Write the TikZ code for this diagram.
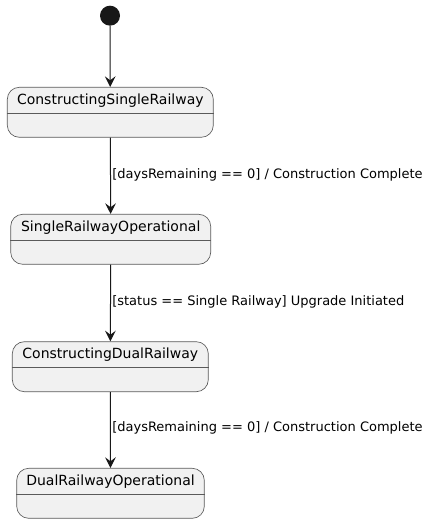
\documentclass[tikz,border=0pt]{standalone}
\usepackage{fontspec}
\setmainfont{DejaVu Sans}
\usetikzlibrary{arrows.meta}
\definecolor{statefill}{HTML}{F1F1F1}
\definecolor{stateline}{HTML}{5A5A5A}
\definecolor{ink}{HTML}{181818}
\tikzset{
  statebox/.style={draw=stateline, fill=statefill, rounded corners=9pt, line width=0.5pt, minimum height=37.5pt, inner sep=0pt},
  statetitle/.style={font=\fontsize{10.5pt}{12pt}\selectfont, text=black, inner sep=0pt},
  divider/.style={draw=stateline, line width=0.5pt},
  trans/.style={draw=ink, line width=0.75pt, -{Stealth[length=8pt,width=8pt,inset=3pt]}},
  translabel/.style={font=\fontsize{9.75pt}{11pt}\selectfont, anchor=west, inner sep=0pt},
  startdot/.style={circle, fill=ink, minimum size=15pt, inner sep=0pt}
}
\begin{document}
\begin{tikzpicture}[x=0.75pt, y=-0.75pt]
\useasboundingbox (0,0) rectangle (429,523);
\node[startdot] (start) at (110,15.7) {};
\node[statebox, minimum width=154.5pt] (s1) at (110.3,112.3) {};
\node[statebox, minimum width=150pt] (s2) at (110.7,239.3) {};
\node[statebox, minimum width=147pt] (s3) at (110.3,366.7) {};
\node[statebox, minimum width=140.7pt] (s4) at (110.5,493.3) {};
\draw[divider] (s1.west |- 0,113.3) -- (s1.east |- 0,113.3);
\draw[divider] (s2.west |- 0,240) -- (s2.east |- 0,240);
\draw[divider] (s3.west |- 0,367.3) -- (s3.east |- 0,367.3);
\draw[divider] (s4.west |- 0,494.3) -- (s4.east |- 0,494.3);
\node[statetitle] (t1) at (110.3,100.5) {ConstructingSingleRailway};
\node[statetitle] (t2) at (110.7,227.5) {SingleRailwayOperational};
\node[statetitle] (t3) at (110.3,355) {ConstructingDualRailway};
\node[statetitle] (t4) at (110.5,481.5) {DualRailwayOperational};
\draw[trans] (start) -- (s1);
\draw[trans] (s1) -- (s2);
\draw[trans] (s2) -- (s3);
\draw[trans] (s3) -- (s4);
\node[translabel] (l1) at (112,175) {[daysRemaining == 0] / Construction Complete};
\node[translabel] (l2) at (112,302) {[status == Single Railway] Upgrade Initiated};
\node[translabel] (l3) at (112,428.3) {[daysRemaining == 0] / Construction Complete};
\end{tikzpicture}
\end{document}
